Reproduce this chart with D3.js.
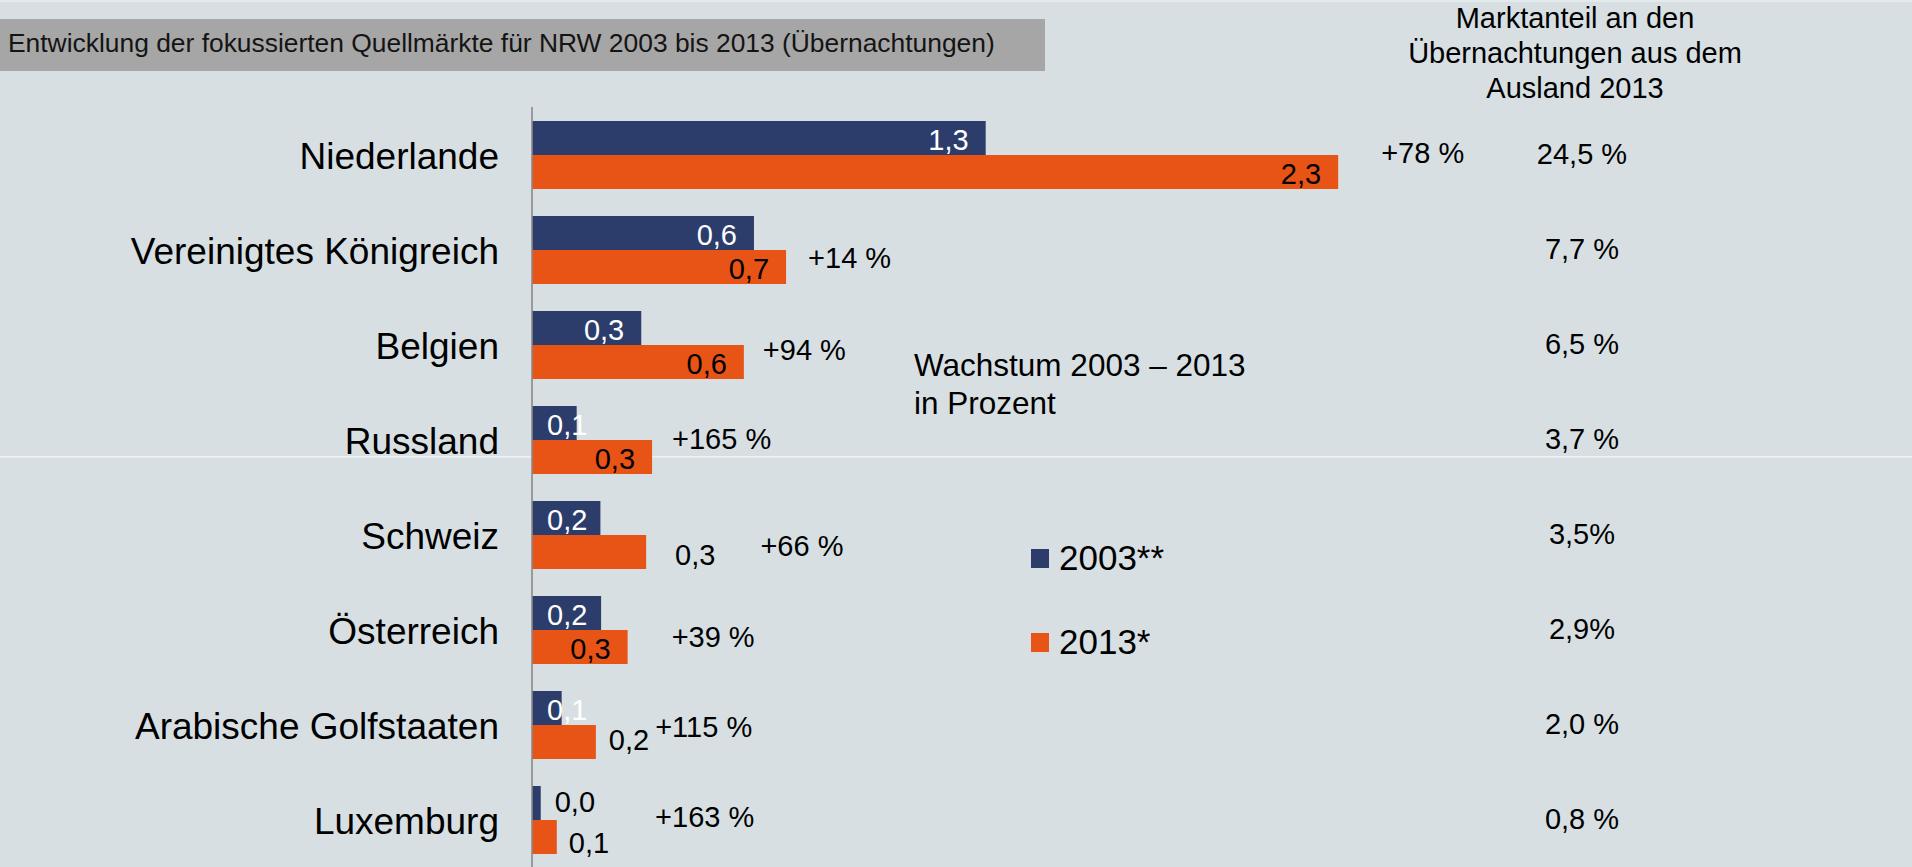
<!DOCTYPE html>
<html>
<head>
<meta charset="utf-8">
<script src="https://cdn.jsdelivr.net/npm/d3@7"></script>
<style>
  body { margin: 0; background: #d7dfe2; }
  svg text { font-family: "Liberation Sans", Arial, sans-serif; fill: #000; }
</style>
</head>
<body>
<div id="chart"></div>
<script>
// data (million overnight stays)
var countries = ["Niederlande", "Vereinigtes Königreich", "Belgien", "Russland",
                 "Schweiz", "Österreich", "Arabische Golfstaaten", "Luxemburg"];
var years = ["2003**", "2013*"];
var values2003 = [1.30, 0.636, 0.313, 0.128, 0.196, 0.198, 0.085, 0.025];
var values2013 = [2.31, 0.728, 0.607, 0.344, 0.327, 0.274, 0.183, 0.071];
var growth = [78, 14, 94, 165, 66, 39, 115, 163];
var shareText = ["24,5 %", "7,7 %", "6,5 %", "3,7 %", "3,5%", "2,9%", "2,0 %", "0,8 %"];

var colors = ["#2c3d6b", "#e85316"];

// labels the slide had moved outside of their bars
var outsideLabels = [
  {c: 4, s: 1, dx: 29, dy: -4},
  {c: 6, s: 1, dx: 13, dy: -9},
  {c: 7, s: 0, dx: 14, dy: -8},
  {c: 7, s: 1, dx: 12, dy: -1}
];
// growth text boxes: gap after the rightmost thing in the row, shift from row centre
var growthPos = [[43, 8], [22, 18], [19, 15], [20, 9], [45, 21], [44, 17], [6, 12], [46, 7]];

var width = 1912, height = 867;
var x0 = 532;

var svg = d3.select("#chart").append("svg")
  .attr("width", width)
  .attr("height", height);

svg.append("rect").attr("width", width).attr("height", height).attr("fill", "#d7dfe2");
svg.append("rect").attr("width", width).attr("height", 2).attr("fill", "#e4e9eb");
// faint slide seam
svg.append("rect").attr("x", 0).attr("y", 456).attr("width", width).attr("height", 1.5).attr("fill", "#eef2f3");

// title box
svg.append("rect").attr("x", 0).attr("y", 19).attr("width", 1045).attr("height", 52).attr("fill", "#a6a6a6");
svg.append("text")
  .attr("x", 8).attr("y", 52)
  .style("font-size", "26.4px")
  .style("fill", "#141414")
  .text("Entwicklung der fokussierten Quellmärkte für NRW 2003 bis 2013 (Übernachtungen)");

var x = d3.scaleLinear().domain([0, 2.5]).range([x0, x0 + 2.5 * 349]);
var y = d3.scaleBand().domain(countries).range([121, 854]).paddingInner(27 / 95).paddingOuter(0);
var ys = d3.scaleBand().domain([0, 1]).range([0, y.bandwidth()]);

var rows = countries.map(function (c, i) {
  return {name: c, i: i, v: [values2003[i], values2013[i]]};
});

// category labels
svg.selectAll(".cat").data(rows).enter().append("text")
  .attr("class", "cat")
  .attr("x", 499)
  .attr("y", function (d) { return y(d.name) + y.bandwidth() / 2 + 13.5; })
  .attr("text-anchor", "end")
  .style("font-size", "37px")
  .text(function (d) { return d.name; });

// bars
var bars = [];
rows.forEach(function (r) {
  [0, 1].forEach(function (s) {
    bars.push({c: r.i, s: s, name: r.name, v: r.v[s]});
  });
});

svg.selectAll(".bar").data(bars).enter().append("rect")
  .attr("class", "bar")
  .attr("x", x0)
  .attr("y", function (d) { return y(d.name) + ys(d.s); })
  .attr("width", function (d) { return x(d.v) - x0; })
  .attr("height", ys.bandwidth())
  .attr("fill", function (d) { return colors[d.s]; });

// axis line
svg.append("line")
  .attr("x1", x0).attr("x2", x0)
  .attr("y1", 107).attr("y2", height)
  .attr("stroke", "#8a8a8a")
  .attr("stroke-width", 1.6);

// value labels
var fmt = function (v) { return d3.format(".1f")(v).replace(".", ","); };
var rowRight = countries.map(function (c, i) { return x(Math.max(values2003[i], values2013[i])); });

bars.forEach(function (d) {
  var out = outsideLabels.filter(function (o) { return o.c === d.c && o.s === d.s; })[0];
  var top = y(d.name) + ys(d.s), bottom = top + ys.bandwidth();
  var end = x(d.v);
  var t = svg.append("text")
    .style("font-size", "29px")
    .text(fmt(d.v));
  var w = t.node().getComputedTextLength();
  if (out) {
    t.attr("x", end + out.dx).attr("y", bottom + out.dy).style("fill", "#000");
    rowRight[d.c] = Math.max(rowRight[d.c], end + out.dx + w);
  } else {
    t.attr("x", Math.max(end - 17 - w, x0 + 15)).attr("y", bottom - 5)
      .style("fill", d.s === 0 ? "#fff" : "#000");
  }
});

// growth labels
rows.forEach(function (r) {
  svg.append("text")
    .attr("x", rowRight[r.i] + growthPos[r.i][0])
    .attr("y", y(r.name) + y.bandwidth() / 2 + growthPos[r.i][1])
    .style("font-size", "29px")
    .text("+" + growth[r.i] + " %");
});

// market share column
var head = ["Marktanteil an den", "Übernachtungen aus dem", "Ausland 2013"];
svg.selectAll(".head").data(head).enter().append("text")
  .attr("x", 1575)
  .attr("y", function (d, i) { return 28 + i * 35; })
  .attr("text-anchor", "middle")
  .style("font-size", "29px")
  .text(function (d) { return d; });

svg.selectAll(".share").data(rows).enter().append("text")
  .attr("x", 1582)
  .attr("y", function (d) { return y(d.name) + y.bandwidth() / 2 + 9; })
  .attr("text-anchor", "middle")
  .style("font-size", "29px")
  .text(function (d) { return shareText[d.i]; });

// growth note
svg.selectAll(".note").data(["Wachstum 2003 – 2013", "in Prozent"]).enter().append("text")
  .attr("x", 914)
  .attr("y", function (d, i) { return 376 + i * 38; })
  .style("font-size", "31.5px")
  .text(function (d) { return d; });

// legend
var legend = svg.selectAll(".leg").data(years).enter().append("g")
  .attr("transform", function (d, i) { return "translate(1031," + (549 + i * 84) + ")"; });
legend.append("rect").attr("width", 18).attr("height", 19)
  .attr("fill", function (d, i) { return colors[i]; });
legend.append("text").attr("x", 28).attr("y", 21)
  .style("font-size", "35px")
  .text(function (d) { return d; });
</script>
</body>
</html>
